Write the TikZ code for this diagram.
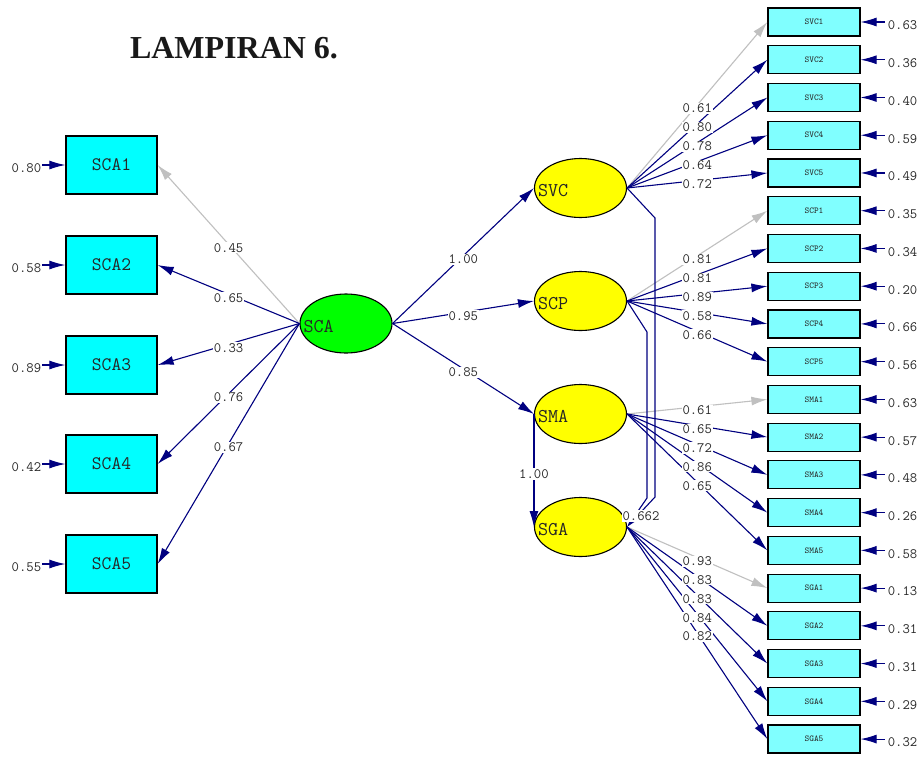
\documentclass[tikz,border=0pt]{standalone}
\usepackage{fontspec}
\setmainfont{Liberation Serif}
\usetikzlibrary{shapes.geometric,arrows.meta,calc}
\definecolor{navyc}{RGB}{0,0,128}
\definecolor{grayc}{RGB}{192,192,192}
\definecolor{cyanA}{RGB}{0,255,255}
\definecolor{cyanB}{RGB}{128,255,255}
\definecolor{yel}{RGB}{255,255,0}
\definecolor{grn}{RGB}{0,255,0}
\definecolor{txt}{RGB}{40,40,40}
\begin{document}
\begin{tikzpicture}[x=1pt,y=-1pt,
  obsL/.style={draw=black, line width=1.3pt, fill=cyanA, minimum width=91pt, minimum height=58pt, inner sep=0pt, font=\ttfamily\fontsize{19}{21}\selectfont, text=black!85},
  obsR/.style={draw=black, line width=1.2pt, fill=cyanB, minimum width=92pt, minimum height=28pt, inner sep=0pt, font=\ttfamily\fontsize{9}{10}\selectfont, text=txt},
  latent/.style={ellipse, draw=black, line width=1.1pt, minimum width=92pt, minimum height=59pt, inner sep=0pt},
  lattext/.style={anchor=west, inner sep=0pt, font=\ttfamily\fontsize{19.5}{21}\selectfont, text=black!85},
  load/.style={line width=1.1pt, -{Latex[length=16pt,width=9pt]}},
  labbox/.style={fill=white, inner sep=1pt, font=\ttfamily\fontsize{14.3}{16}\selectfont, text=txt},
  lab/.style={labbox, yshift=-3.5pt},
  num/.style={inner sep=0pt, font=\ttfamily\fontsize{14.3}{16}\selectfont, text=txt},
]
\useasboundingbox[fill=white] (0,0) rectangle (922,756);

% title
\node[font=\bfseries\fontsize{32}{36}\selectfont, text=black!90] (title) at (234,48) {LAMPIRAN 6.};

% left observed variables
\foreach \nm/\yy/\err in {SCA1/165/0.80, SCA2/265/0.58, SCA3/365/0.89, SCA4/464/0.42, SCA5/564/0.55} {
  \node[obsL] (\nm) at (111.5,\yy) {\nm};
  \coordinate (\nm-e) at ([xshift=-23pt]\nm.west);
  \draw[load, navyc] (\nm-e) -- (\nm.west);
  \node[num, anchor=east] (\nm-v) at ([xshift=-24pt,yshift=-3pt]\nm.west) {\err};
}

% right observed variables
\foreach \nm/\i/\err in {SVC1/0/0.63, SVC2/1/0.36, SVC3/2/0.40, SVC4/3/0.59, SVC5/4/0.49,
  SCP1/5/0.35, SCP2/6/0.34, SCP3/7/0.20, SCP4/8/0.66, SCP5/9/0.56,
  SMA1/10/0.63, SMA2/11/0.57, SMA3/12/0.48, SMA4/13/0.26, SMA5/14/0.58,
  SGA1/15/0.13, SGA2/16/0.31, SGA3/17/0.31, SGA4/18/0.29, SGA5/19/0.32} {
  \node[obsR] (\nm) at (814,{22+37.74*\i}) {\nm};
  \coordinate (\nm-e) at ([xshift=24pt]\nm.east);
  \draw[load, navyc] (\nm-e) -- (\nm.east);
  \node[num, anchor=west] (\nm-v) at ([xshift=27pt,yshift=-3.5pt]\nm.east) {\err};
}

% latent variables
\node[latent, fill=grn] (SCA) at (346,323.5) {};
\node[latent, fill=yel] (SVC) at (580.5,188) {};
\node[latent, fill=yel] (SCP) at (580.5,301) {};
\node[latent, fill=yel] (SMA) at (580.5,414) {};
\node[latent, fill=yel] (SGA) at (580.5,527) {};
\foreach \nm in {SCA,SVC,SCP,SMA,SGA}
  \node[lattext] (\nm-t) at ([xshift=4pt,yshift=-3pt]\nm.west) {\nm};

% left loadings
\foreach \nm/\col in {SCA1/grayc, SCA2/navyc, SCA3/navyc, SCA4/navyc, SCA5/navyc}
  \draw[load, \col] (SCA.west) -- (\nm.east);

% structural paths
\draw[load, navyc] (SCA.east) -- (SVC.west);
\draw[load, navyc] (SCA.east) -- (SCP.west);
\draw[load, navyc] (SCA.east) -- (SMA.west);
\draw[load, navyc] (SMA.west) -- (SGA.west);

% right loadings
\foreach \lat/\nm/\col in {SVC/SVC1/grayc, SVC/SVC2/navyc, SVC/SVC3/navyc, SVC/SVC4/navyc, SVC/SVC5/navyc,
  SCP/SCP1/grayc, SCP/SCP2/navyc, SCP/SCP3/navyc, SCP/SCP4/navyc, SCP/SCP5/navyc,
  SMA/SMA1/grayc, SMA/SMA2/navyc, SMA/SMA3/navyc, SMA/SMA4/navyc, SMA/SMA5/navyc,
  SGA/SGA1/grayc, SGA/SGA2/navyc, SGA/SGA3/navyc, SGA/SGA4/navyc, SGA/SGA5/navyc}
  \draw[load, \col] (\lat.east) -- (\nm.west);

% correlation paths
\coordinate (c1a) at (655,218);
\coordinate (c1b) at (655,497);
\coordinate (c2a) at (647,332);
\coordinate (c2b) at (647,498);
\draw[load, navyc] (SVC.east) -- (c1a) -- (c1b) -- (SGA.east);
\draw[load, navyc] (SCP.east) -- (c2a) -- (c2b) -- (SGA.east);

% labels (on top)
\foreach \nm/\v in {SCA1/0.45, SCA2/0.65, SCA3/0.33, SCA4/0.76, SCA5/0.67}
  \path (SCA.west) -- node[lab] (L\nm) {\v} (\nm.east);
\path (SCA.east) -- node[lab] (Lsvc) {1.00} (SVC.west);
\path (SCA.east) -- node[lab] (Lscp) {0.95} (SCP.west);
\path (SCA.east) -- node[lab] (Lsma) {0.85} (SMA.west);
\path (SMA.west) -- node[lab] (Lsga) {1.00} (SGA.west);
\foreach \lat/\nm/\v in {SVC/SVC1/0.61, SVC/SVC2/0.80, SVC/SVC3/0.78, SVC/SVC4/0.64, SVC/SVC5/0.72,
  SCP/SCP1/0.81, SCP/SCP2/0.81, SCP/SCP3/0.89, SCP/SCP4/0.58, SCP/SCP5/0.66,
  SMA/SMA1/0.61, SMA/SMA2/0.65, SMA/SMA3/0.72, SMA/SMA4/0.86, SMA/SMA5/0.65,
  SGA/SGA1/0.93, SGA/SGA2/0.83, SGA/SGA3/0.83, SGA/SGA4/0.84, SGA/SGA5/0.82}
  \path (\lat.east) -- node[lab] (L\nm) {\v} (\nm.west);
\node[labbox] (Lcor) at (641,516) {0.662};
\end{tikzpicture}
\end{document}
